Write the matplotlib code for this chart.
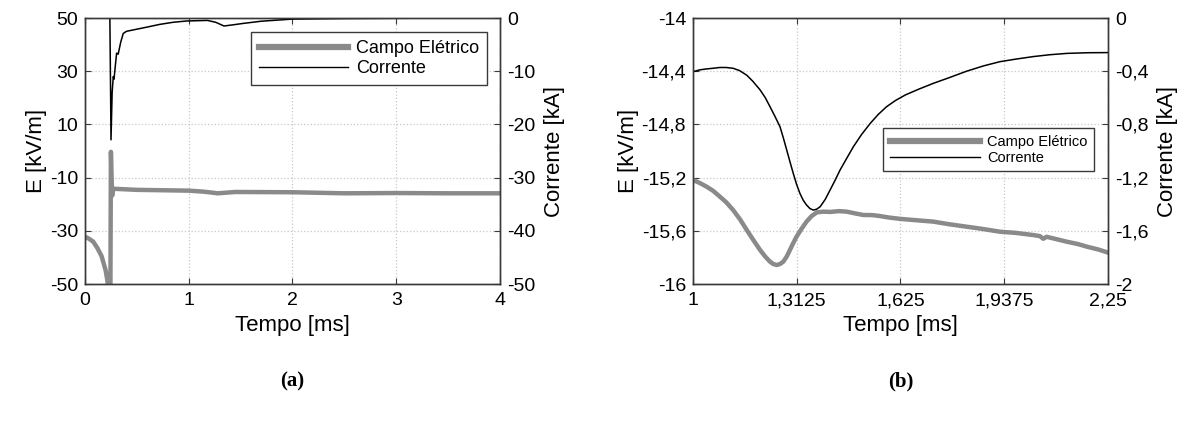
import matplotlib
matplotlib.use("Agg")
import matplotlib.pyplot as plt
from matplotlib.lines import Line2D

plt.rcParams['font.family'] = ['Liberation Sans', 'DejaVu Sans']

# ---- panel (a) data ----
t_e_a = [0, 0.04, 0.08, 0.12, 0.16, 0.18, 0.2, 0.215, 0.23, 0.245, 0.25, 0.255,
         0.262, 0.268, 0.28, 0.5, 1.0, 1.15, 1.28, 1.45, 2.0, 2.5, 3.0, 3.5, 4.0]
e_a = [-32.2, -33.0, -34.1, -36.5, -39.5, -42.2, -45, -48.5, -53, -55, -0.3, -8,
       -16.8, -15.0, -14.2, -14.6, -14.9, -15.3, -15.9, -15.4, -15.5, -15.9, -15.8, -15.9, -15.9]

t_i_a = [0, 0.24, 0.246, 0.251, 0.262, 0.273, 0.28, 0.29, 0.305, 0.32, 0.345, 0.369,
         0.4, 0.45, 0.6, 0.72, 0.85, 0.98, 1.18, 1.26, 1.34, 1.42, 1.53, 1.7, 2.0, 2.5, 3.0, 4.0]
i_a = [0, 0, -12, -22.9, -14, -11.0, -11.5, -9.5, -6.6, -6.8, -4.5, -2.9,
       -2.5, -2.3, -1.7, -1.2, -0.8, -0.56, -0.45, -0.8, -1.5, -1.3, -1.0, -0.6, -0.2, -0.1, -0.05, 0]

# ---- panel (b) data ----
t_e_b = [1.0, 1.02, 1.041, 1.061, 1.081, 1.10, 1.121, 1.142, 1.162, 1.182, 1.202, 1.218,
         1.232, 1.242, 1.252, 1.262, 1.272, 1.282, 1.292, 1.302, 1.312, 1.327, 1.342,
         1.357, 1.373, 1.393, 1.413, 1.44, 1.463, 1.49, 1.513, 1.54, 1.563, 1.59, 1.623,
         1.67, 1.724, 1.77, 1.824, 1.87, 1.925, 1.97, 2.025, 2.045, 2.055, 2.065, 2.09,
         2.126, 2.16, 2.186, 2.22, 2.25]
e_b = [-15.218, -15.24, -15.268, -15.30, -15.343, -15.385, -15.444, -15.515, -15.594,
       -15.67, -15.744, -15.795, -15.832, -15.85, -15.857, -15.85, -15.832, -15.795,
       -15.744, -15.692, -15.644, -15.585, -15.531, -15.49, -15.461, -15.456, -15.458,
       -15.452, -15.456, -15.47, -15.481, -15.482, -15.489, -15.50, -15.51, -15.52,
       -15.531, -15.55, -15.569, -15.585, -15.607, -15.615, -15.632, -15.64, -15.66,
       -15.645, -15.66, -15.682, -15.70, -15.719, -15.74, -15.764]

t_i_b = [1.0, 1.02, 1.04, 1.06, 1.081, 1.10, 1.121, 1.14, 1.162, 1.18, 1.202, 1.218,
         1.232, 1.247, 1.262, 1.272, 1.282, 1.292, 1.302, 1.312, 1.322, 1.332, 1.342,
         1.352, 1.362, 1.372, 1.383, 1.398, 1.413, 1.428, 1.443, 1.463, 1.483, 1.508,
         1.534, 1.558, 1.583, 1.61, 1.64, 1.68, 1.724, 1.77, 1.824, 1.875, 1.925, 1.975,
         2.025, 2.075, 2.126, 2.19, 2.25]
i_b = [-0.404, -0.39, -0.383, -0.378, -0.372, -0.372, -0.378, -0.395, -0.43, -0.475,
       -0.54, -0.6, -0.667, -0.74, -0.817, -0.9, -0.99, -1.08, -1.168, -1.25, -1.318,
       -1.37, -1.406, -1.432, -1.444, -1.438, -1.419, -1.365, -1.293, -1.22, -1.143,
       -1.055, -0.968, -0.875, -0.792, -0.725, -0.667, -0.62, -0.578, -0.535, -0.491,
       -0.45, -0.40, -0.36, -0.328, -0.308, -0.29, -0.276, -0.266, -0.261, -0.26]

xticks_a = [0, 1, 2, 3, 4]
xlabels_a = ['0', '1', '2', '3', '4']
eticks_a = [50, 30, 10, -10, -30, -50]
iticks_a = [0, -10, -20, -30, -40, -50]

xticks_b = [1, 1.3125, 1.625, 1.9375, 2.25]
xlabels_b = ['1', '1,3125', '1,625', '1,9375', '2,25']
eticks_b = [-14, -14.4, -14.8, -15.2, -15.6, -16]
elabels_b = ['-14', '-14,4', '-14,8', '-15,2', '-15,6', '-16']
iticks_b = [0, -0.4, -0.8, -1.2, -1.6, -2]
ilabels_b = ['0', '-0,4', '-0,8', '-1,2', '-1,6', '-2']

GRAY = '#8a8a8a'
SPINE = '#3a3a3a'

fig = plt.figure(figsize=(11.95, 4.21), dpi=100)


def panel(rect, te, e, ti, i, xt, xl, et, el, it, il, elim, ilim, xlim,
          leg_anchor, leg_fs, leg_hl, tag):
  ax = fig.add_axes(rect)
  ax.plot(te, e, color=GRAY, lw=3.2, solid_joinstyle='round')
  ax.set_xlim(xlim)
  ax.set_ylim(elim)
  ax.set_xticks(xt)
  ax.set_xticklabels(xl)
  ax.set_yticks(et)
  ax.set_yticklabels(el)
  ax.grid(True, color='#c8c8c8', ls=':', lw=0.9)
  ax.set_xlabel('Tempo [ms]', fontsize=16, labelpad=4)
  ax.set_ylabel('E [kV/m]', fontsize=16, labelpad=2)
  ax.tick_params(direction='in', length=4, labelsize=14, top=True, color=SPINE)
  ax.tick_params(axis='y', pad=5)
  ax.tick_params(axis='x', pad=6)

  ax2 = ax.twinx()
  ax2.plot(ti, i, color='black', lw=1.1)
  ax2.set_ylim(ilim)
  ax2.set_yticks(it)
  ax2.set_yticklabels(il)
  ax2.set_ylabel('Corrente [kA]', fontsize=16, labelpad=6)
  ax2.tick_params(direction='in', length=4, labelsize=14, pad=5, color=SPINE)
  for a in (ax, ax2):
    for s in a.spines.values():
      s.set_color(SPINE)
      s.set_linewidth(1.0)

  handles = [Line2D([], [], color=GRAY, lw=4.5), Line2D([], [], color='black', lw=1.0)]
  leg = ax2.legend(handles, ['Campo Elétrico', 'Corrente'], loc='upper right',
                   bbox_to_anchor=leg_anchor, fontsize=leg_fs, handlelength=leg_hl,
                   handletextpad=0.45, borderpad=0.45, labelspacing=0.15,
                   fancybox=False, framealpha=1, edgecolor=SPINE, borderaxespad=0)
  leg.get_frame().set_linewidth(1.0)

  fig.text(rect[0] + rect[2] / 2, 0.095, tag, ha='center', va='center',
           fontsize=15, fontweight='bold', family='Liberation Serif')
  return ax, ax2


panel([0.0711, 0.3254, 0.3473, 0.6318], t_e_a, e_a, t_i_a, i_a,
      xticks_a, xlabels_a, eticks_a, [str(v) for v in eticks_a],
      iticks_a, [str(v) for v in iticks_a], (-50, 50), (-50, 0), (0, 4),
      (0.969, 0.947), 13, 4.9, '(a)')

panel([0.5799, 0.3254, 0.3473, 0.6318], t_e_b, e_b, t_i_b, i_b,
      xticks_b, xlabels_b, eticks_b, elabels_b, iticks_b, ilabels_b,
      (-16, -14), (-2, 0), (1, 2.25),
      (0.966, 0.586), 10.5, 6.2, '(b)')

fig.savefig('out.png', dpi=100)
